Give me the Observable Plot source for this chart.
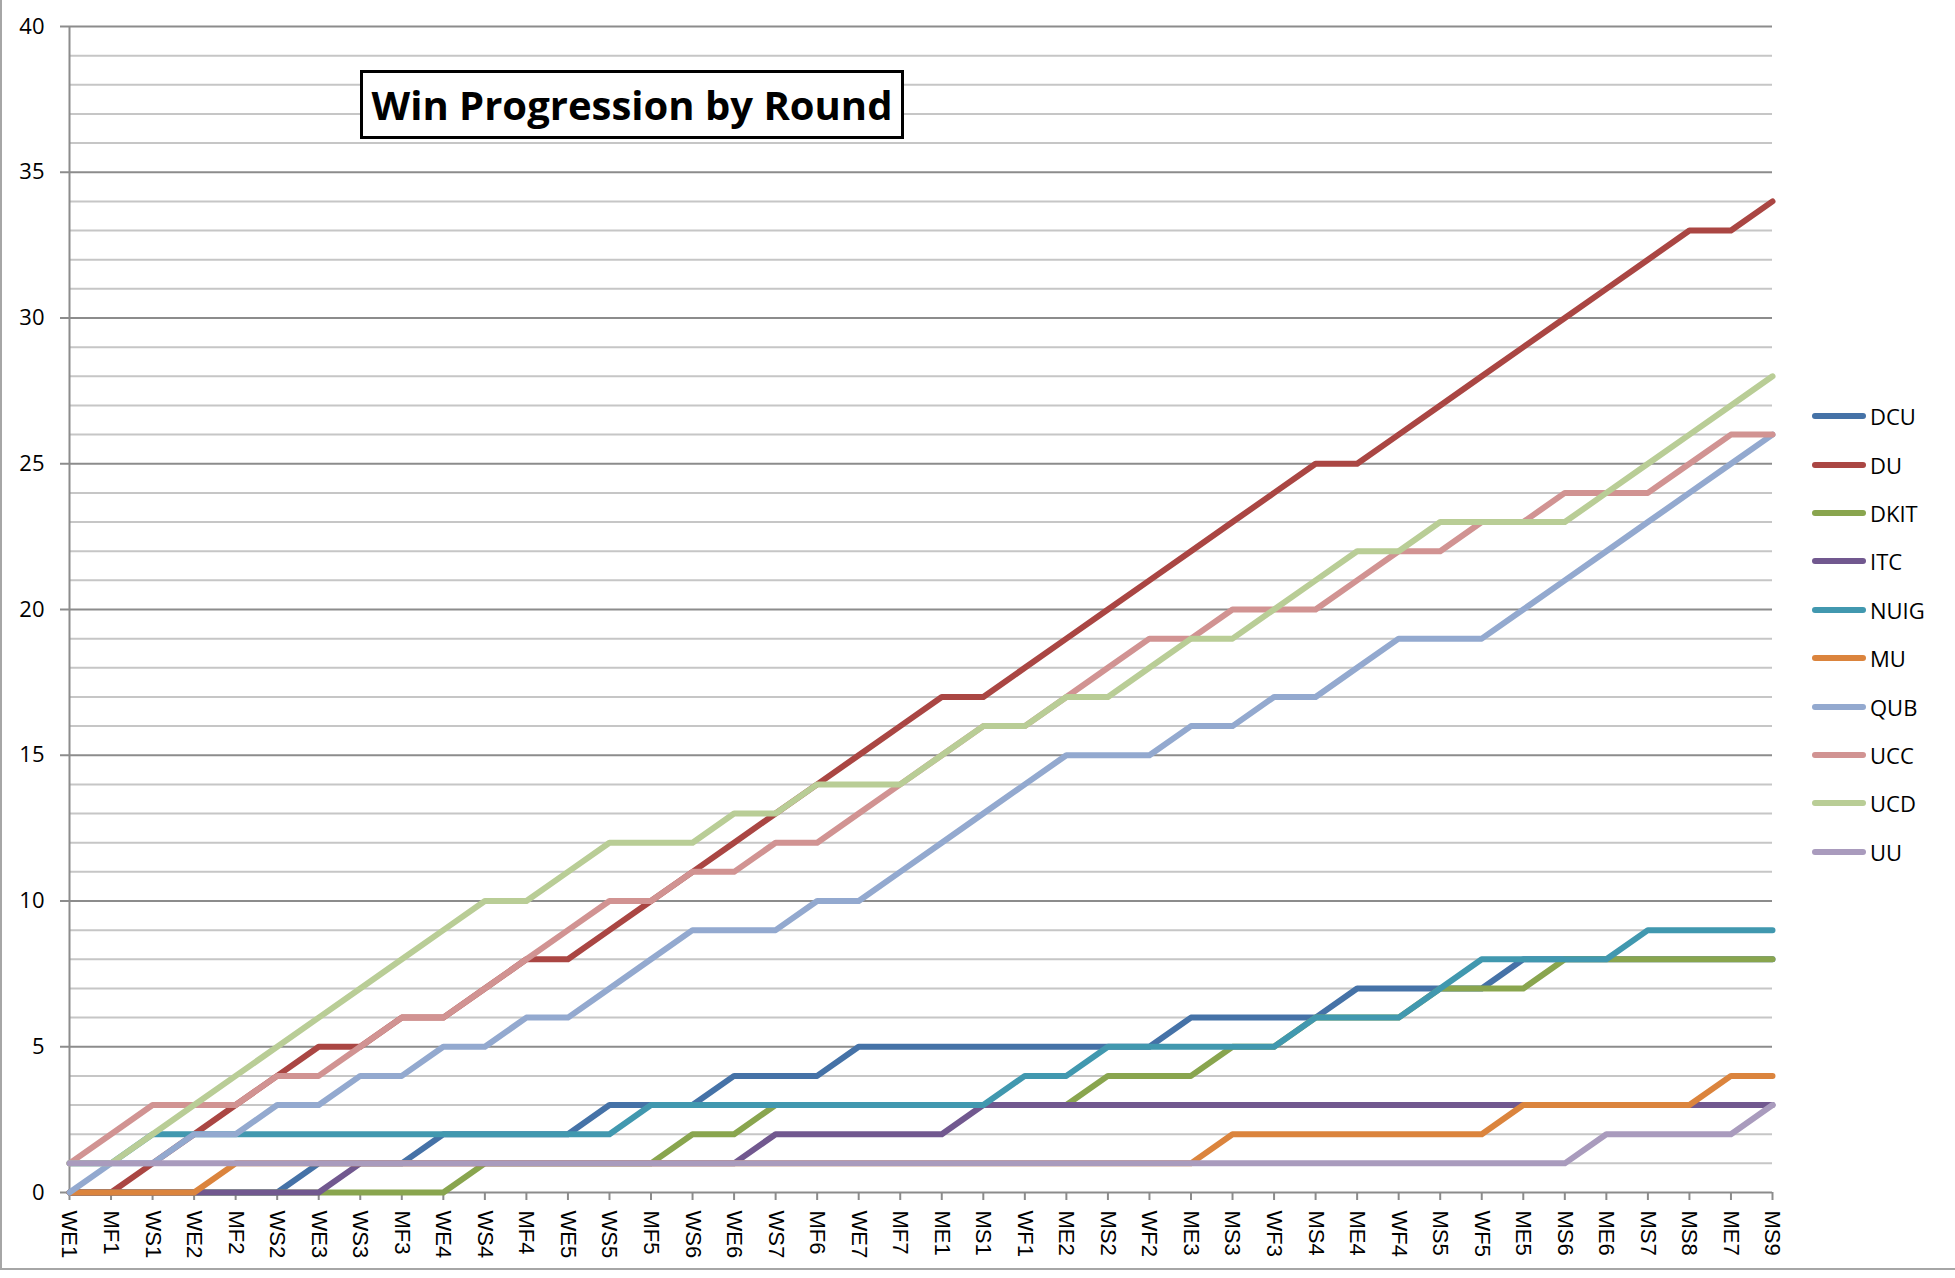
<!DOCTYPE html>
<html>
<head>
<meta charset="utf-8">
<script src="https://cdn.jsdelivr.net/npm/d3@7"></script>
<script src="https://cdn.jsdelivr.net/npm/@observablehq/plot@0.6"></script>
<style>
  html, body { margin: 0; padding: 0; background: #fff; }
  #wrap { position: relative; width: 1955px; height: 1278px; overflow: hidden; }
  #frame { position: absolute; left: 0; top: -4px; width: 2000px; height: 1274px; border-left: 2px solid #a6a6a6; border-bottom: 2px solid #a6a6a6; box-sizing: border-box; pointer-events: none; }
  #chart { position: absolute; left: 0; top: 0; width: 1800px; }
  #title { position: absolute; left: 360px; top: 70px; width: 538px; height: 63px; border: 3px solid #000; background: #fff;
           font-family: "Open Sans", sans-serif; font-weight: 700; font-size: 40px; line-height: 63px; text-align: center; color: #000; white-space: nowrap; }
  #legend { position: absolute; left: 1812px; top: 392px; font-family: "Open Sans", sans-serif; font-size: 22px; color: #000; }
  .item { height: 48.4px; display: flex; align-items: center; }
  .sw { width: 54px; height: 6px; border-radius: 3px; margin-right: 4px; }
</style>
</head>
<body>
<div id="wrap">
  <div id="chart"></div>
  <div id="title">Win Progression by Round</div>
  <div id="legend"></div>
  <div id="frame"></div>
</div>
<script>
const rounds = ["WE1","MF1","WS1","WE2","MF2","WS2","WE3","WS3","MF3","WE4","WS4","MF4","WE5","WS5","MF5","WS6","WE6","WS7","MF6","WE7","MF7","ME1","MS1","WF1","ME2","MS2","WF2","ME3","MS3","WF3","MS4","ME4","WF4","MS5","WF5","ME5","MS6","ME6","MS7","MS8","ME7","MS9"];
const teams = ["DCU","DU","DKIT","ITC","NUIG","MU","QUB","UCC","UCD","UU"];
const colors = ["#4572A7","#AA4643","#89A54E","#71588F","#4198AF","#DB843D","#93A9CF","#D19392","#B9CD96","#A99BBD"];

const DCU  = [0,0,0,0,0,0,1,1,1,2,2,2,2,3,3,3,4,4,4,5,5,5,5,5,5,5,5,6,6,6,6,7,7,7,7,8,8,8,8,8,8,8];
const DU   = [0,0,1,2,3,4,5,5,6,6,7,8,8,9,10,11,12,13,14,15,16,17,17,18,19,20,21,22,23,24,25,25,26,27,28,29,30,31,32,33,33,34];
const DKIT = [0,0,0,0,0,0,0,0,0,0,1,1,1,1,1,2,2,3,3,3,3,3,3,3,3,4,4,4,5,5,6,6,6,7,7,7,8,8,8,8,8,8];
const ITC  = [0,0,0,0,0,0,0,1,1,1,1,1,1,1,1,1,1,2,2,2,2,2,3,3,3,3,3,3,3,3,3,3,3,3,3,3,3,3,3,3,3,3];
const NUIG = [1,1,2,2,2,2,2,2,2,2,2,2,2,2,3,3,3,3,3,3,3,3,3,4,4,5,5,5,5,5,6,6,6,7,8,8,8,8,9,9,9,9];
const MU   = [0,0,0,0,1,1,1,1,1,1,1,1,1,1,1,1,1,1,1,1,1,1,1,1,1,1,1,1,2,2,2,2,2,2,2,3,3,3,3,3,4,4];
const QUB  = [0,1,1,2,2,3,3,4,4,5,5,6,6,7,8,9,9,9,10,10,11,12,13,14,15,15,15,16,16,17,17,18,19,19,19,20,21,22,23,24,25,26];
const UCC  = [1,2,3,3,3,4,4,5,6,6,7,8,9,10,10,11,11,12,12,13,14,15,16,16,17,18,19,19,20,20,20,21,22,22,23,23,24,24,24,25,26,26];
const UCD  = [1,1,2,3,4,5,6,7,8,9,10,10,11,12,12,12,13,13,14,14,14,15,16,16,17,17,18,19,19,20,21,22,22,23,23,23,23,24,25,26,27,28];
const UU   = [1,1,1,1,1,1,1,1,1,1,1,1,1,1,1,1,1,1,1,1,1,1,1,1,1,1,1,1,1,1,1,1,1,1,1,1,1,2,2,2,2,3];

const series = {DCU, DU, DKIT, ITC, NUIG, MU, QUB, UCC, UCD, UU};
const data = teams.flatMap(t => series[t].map((v, i) => ({team: t, round: rounds[i], wins: v})));

const minor = d3.range(0, 41).filter(v => v % 5 !== 0);
const major = d3.range(0, 41, 5);

const chart = Plot.plot({
  width: 1800,
  height: 1278,
  marginLeft: 69,
  marginRight: 28,
  marginTop: 26,
  marginBottom: 86,
  style: {background: "transparent", overflow: "visible", maxWidth: "none"},
  x: {type: "point", domain: rounds, padding: 0, round: false, label: null},
  y: {domain: [0, 40], label: null},
  color: {domain: teams, range: colors},
  marks: [
    Plot.ruleY(minor, {stroke: "#c6c6c6", strokeWidth: 2}),
    Plot.ruleY(major, {stroke: "#8c8c8c", strokeWidth: 2}),
    Plot.ruleX([rounds[0]], {stroke: "#8c8c8c", strokeWidth: 2}),
    Plot.axisY({ticks: major, tickSize: 9, tickPadding: 16, fontSize: 22, fontFamily: "Open Sans", stroke: "#8c8c8c", fill: "#000", strokeWidth: 2}),
    Plot.axisX({tickSize: 8, tickPadding: 10, tickRotate: 90, fontSize: 22, fontFamily: "Liberation Sans", stroke: "#8c8c8c", fill: "#000", strokeWidth: 2}),
    Plot.line(data, {x: "round", y: "wins", z: "team", stroke: "team", strokeWidth: 6, strokeLinejoin: "round", strokeLinecap: "round"})
  ]
});
document.getElementById("chart").appendChild(chart);

const legend = document.getElementById("legend");
teams.forEach((t, i) => {
  const row = document.createElement("div");
  row.className = "item";
  const sw = document.createElement("div");
  sw.className = "sw";
  sw.style.background = colors[i];
  const lab = document.createElement("span");
  lab.textContent = t;
  row.appendChild(sw);
  row.appendChild(lab);
  legend.appendChild(row);
});
</script>
</body>
</html>
